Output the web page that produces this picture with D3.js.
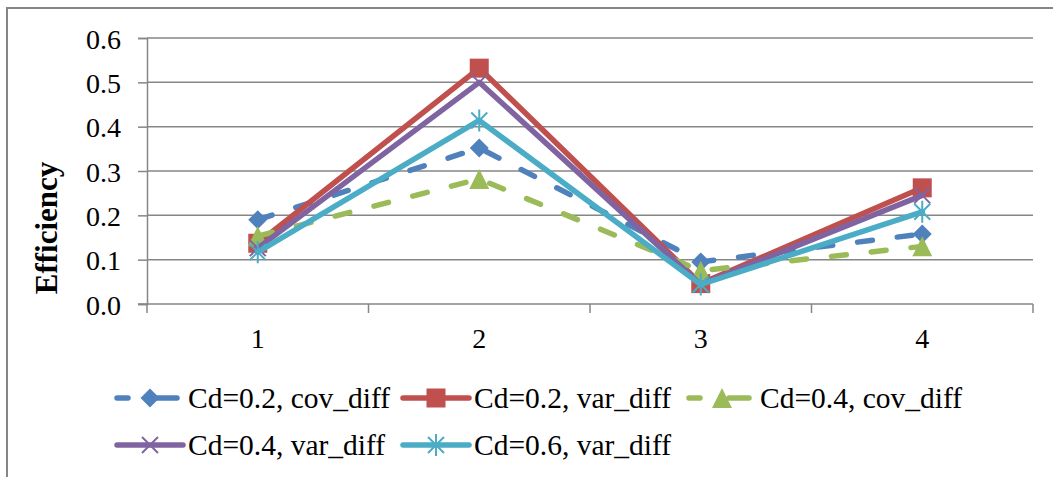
<!DOCTYPE html>
<html>
<head>
<meta charset="utf-8">
<script src="https://cdn.jsdelivr.net/npm/d3@7"></script>
<style>
  html, body { margin: 0; padding: 0; background: #fff; }
  svg { display: block; font-family: "Liberation Serif", "Times New Roman", serif; }
</style>
</head>
<body>
<svg id="chart" width="1053" height="477"></svg>
<script>
// Categories along the x axis
const categories = ["1", "2", "3", "4"];
// Y axis tick labels
const yTicks = [0, 0.1, 0.2, 0.3, 0.4, 0.5, 0.6];

// Series values
const cd02Cov = [0.19, 0.352, 0.095, 0.158];
const cd02Var = [0.137, 0.532, 0.046, 0.262];
const cd04Cov = [0.153, 0.282, 0.075, 0.13];
const cd04Var = [0.126, 0.5, 0.044, 0.245];
const cd06Var = [0.117, 0.414, 0.044, 0.208];

const seriesNames = ["Cd=0.2, cov_diff", "Cd=0.2, var_diff", "Cd=0.4, cov_diff", "Cd=0.4, var_diff", "Cd=0.6, var_diff"];

const series = [
  { name: seriesNames[0], values: cd02Cov, color: "#4F81BD", dashed: true,  marker: "diamond" },
  { name: seriesNames[1], values: cd02Var, color: "#C0504D", dashed: false, marker: "square" },
  { name: seriesNames[2], values: cd04Cov, color: "#9BBB59", dashed: true,  marker: "triangle" },
  { name: seriesNames[3], values: cd04Var, color: "#8064A2", dashed: false, marker: "x" },
  { name: seriesNames[4], values: cd06Var, color: "#4BACC6", dashed: false, marker: "star" }
];

const svg = d3.select("#chart");
const gridColor = "#868686";

// Outer chart frame
svg.append("rect")
  .attr("x", 7).attr("y", 8).attr("width", 1060).attr("height", 480)
  .attr("fill", "none").attr("stroke", gridColor).attr("stroke-width", 2);

const plot = { left: 147, right: 1033, top: 38, bottom: 304 };

const x = d3.scaleBand().domain(categories).range([plot.left, plot.right]).paddingInner(0).paddingOuter(0);
const y = d3.scaleLinear().domain([0, 0.6]).range([plot.bottom, plot.top]);
const cx = c => x(c) + x.bandwidth() / 2;

// Horizontal gridlines
svg.append("g").selectAll("line")
  .data(yTicks.filter(t => t > 0))
  .join("line")
  .attr("x1", plot.left).attr("x2", plot.right)
  .attr("y1", d => y(d)).attr("y2", d => y(d))
  .attr("stroke", gridColor).attr("stroke-width", 1.5);

// Y axis
const yAxis = d3.axisLeft(y).tickValues(yTicks).tickFormat(d3.format(".1f")).tickSize(9).tickPadding(17);
const gy = svg.append("g").attr("transform", `translate(${plot.left},0)`).call(yAxis);
gy.select(".domain").attr("stroke", gridColor).attr("stroke-width", 1.5);
gy.selectAll(".tick line").attr("stroke", gridColor).attr("stroke-width", 1.5);
gy.selectAll(".tick text").attr("font-size", 28).attr("fill", "#000")
  .attr("font-family", "Liberation Serif").attr("dy", "0.36em");

// X axis line with tick marks at category boundaries
svg.append("line")
  .attr("x1", plot.left - 9).attr("x2", plot.right)
  .attr("y1", plot.bottom).attr("y2", plot.bottom)
  .attr("stroke", gridColor).attr("stroke-width", 1.5);
const boundaries = categories.map(c => x(c)).concat([x(categories[categories.length - 1]) + x.bandwidth()]);
svg.append("g").selectAll("line")
  .data(boundaries)
  .join("line")
  .attr("x1", d => d).attr("x2", d => d)
  .attr("y1", plot.bottom).attr("y2", plot.bottom + 9)
  .attr("stroke", gridColor).attr("stroke-width", 1.5);
svg.append("g").selectAll("text")
  .data(categories)
  .join("text")
  .attr("x", d => cx(d)).attr("y", 348)
  .attr("text-anchor", "middle")
  .attr("font-size", 28)
  .text(d => d);

// Y axis title
svg.append("text")
  .attr("transform", "translate(57,228) rotate(-90)")
  .attr("text-anchor", "middle")
  .attr("font-size", 31).attr("font-weight", "bold")
  .text("Efficiency");

// Marker drawing
function drawMarker(g, type, color) {
  if (type === "diamond") {
    g.append("path").attr("d", "M0,-9.5L9.5,0L0,9.5L-9.5,0Z").attr("fill", color);
  } else if (type === "square") {
    g.append("rect").attr("x", -9.5).attr("y", -9.5).attr("width", 19).attr("height", 19).attr("fill", color);
  } else if (type === "triangle") {
    g.append("path").attr("d", "M0,-10L10,10L-10,10Z").attr("fill", color);
  } else if (type === "x") {
    g.append("path").attr("d", "M-8,-8L8,8M-8,8L8,-8").attr("stroke", color).attr("stroke-width", 2).attr("fill", "none");
  } else if (type === "star") {
    g.append("path").attr("d", "M-8,-8L8,8M-8,8L8,-8M0,-11L0,11").attr("stroke", color).attr("stroke-width", 2).attr("fill", "none");
  }
}

const line = d3.line().x((d, i) => cx(categories[i])).y(d => y(d));

series.forEach(s => {
  const g = svg.append("g");
  g.append("path")
    .attr("d", line(s.values))
    .attr("fill", "none")
    .attr("stroke", s.color)
    .attr("stroke-width", 5.5)
    .attr("stroke-linejoin", "round")
    .attr("stroke-linecap", "round")
    .attr("stroke-dasharray", s.dashed ? "15,25" : null);
  s.values.forEach((v, i) => {
    const m = g.append("g").attr("transform", `translate(${cx(categories[i])},${y(v)})`);
    drawMarker(m, s.marker, s.color);
  });
});

// Legend: three columns, two rows
const legendCols = [115, 401, 687];
const legendRows = [398, 445];
series.forEach((s, i) => {
  const lx = legendCols[i % 3];
  const ly = legendRows[Math.floor(i / 3)];
  const g = svg.append("g").attr("transform", `translate(${lx},${ly})`);
  if (s.dashed) {
    g.append("line").attr("x1", 2).attr("x2", 13).attr("y1", 0).attr("y2", 0)
      .attr("stroke", s.color).attr("stroke-width", 5.5).attr("stroke-linecap", "round");
    g.append("line").attr("x1", 42).attr("x2", 62).attr("y1", 0).attr("y2", 0)
      .attr("stroke", s.color).attr("stroke-width", 5.5).attr("stroke-linecap", "round");
  } else {
    g.append("line").attr("x1", 2).attr("x2", 68).attr("y1", 0).attr("y2", 0)
      .attr("stroke", s.color).attr("stroke-width", 5.5).attr("stroke-linecap", "round");
  }
  const m = g.append("g").attr("transform", "translate(35,0)");
  drawMarker(m, s.marker, s.color);
  g.append("text")
    .attr("x", 73).attr("y", 10)
    .attr("font-size", 29.5)
    .text(s.name);
});
</script>
</body>
</html>
